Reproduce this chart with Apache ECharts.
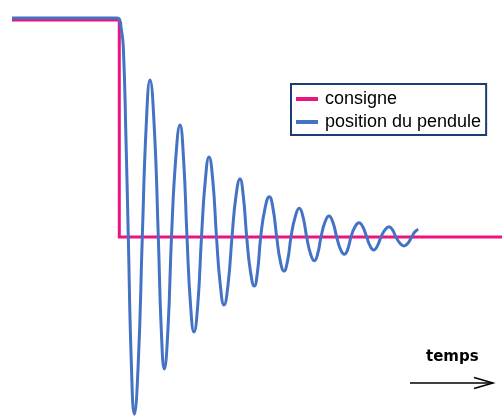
<!DOCTYPE html>
<html>
<head>
<meta charset="utf-8">
<script src="https://cdn.jsdelivr.net/npm/echarts@6/dist/echarts.min.js"></script>
<style>
  html, body { margin: 0; padding: 0; background: #ffffff; }
  #chart { width: 502px; height: 417px; }
</style>
</head>
<body>
<div id="chart"></div>
<script>
// Series names (legend)
const seriesNames = ['consigne', 'position du pendule'];

// Set point (consigne): time / value pairs
const consigneT = [0, 10.73, 10.73, 49];
const consigneV = [1, 1, 0, 0];

// Pendulum position: time / value pairs
const penduleT = [0, 10.5, 10.75, 10.9, 11.13, 11.4, 11.63, 11.93, 12.23, 12.63, 13.03,
  13.42, 13.8, 14.22, 14.63, 14.93, 15.23, 15.59, 15.95,
  16.38, 16.8, 17.15, 17.5, 17.85, 18.2, 18.58, 18.95,
  19.33, 19.7, 20.08, 20.45, 20.83, 21.2, 21.6, 22.0,
  22.4, 22.8, 23.13, 23.47, 23.85, 24.23, 24.55, 24.87,
  25.3, 25.73, 26.1, 26.47, 26.83, 27.2, 27.55, 27.9,
  28.32, 28.73, 29.1, 29.47, 29.85, 30.23, 30.57, 30.9,
  31.3, 31.7, 32.08, 32.47, 32.85, 33.23, 33.57, 33.9,
  34.3, 34.7, 35.08, 35.47, 35.82, 36.17, 36.53, 36.9,
  37.3, 37.7, 38.05, 38.4, 38.8, 39.2, 39.58, 39.97,
  40.3, 40.63];
const penduleV = [1.009, 1.009, 1.002, 0.968, 0.876, 0.447, 0, -0.577, -0.816, -0.577, 0,
  0.512, 0.724, 0.512, 0, -0.430, -0.608, -0.430, 0,
  0.365, 0.516, 0.365, 0, -0.310, -0.438, -0.310, 0,
  0.261, 0.369, 0.261, 0, -0.221, -0.313, -0.221, 0,
  0.189, 0.267, 0.189, 0, -0.160, -0.226, -0.160, 0,
  0.132, 0.186, 0.132, 0, -0.111, -0.157, -0.111, 0,
  0.093, 0.132, 0.093, 0, -0.077, -0.109, -0.077, 0,
  0.069, 0.097, 0.069, 0, -0.057, -0.080, -0.057, 0,
  0.047, 0.066, 0.047, 0, -0.042, -0.060, -0.042, 0,
  0.033, 0.047, 0.033, 0, -0.029, -0.041, -0.029, 0,
  0.024, 0.035];

const axisLabel = 'temps';

const pair = (ts, vs) => ts.map((t, i) => [t, vs[i]]);

const chart = echarts.init(document.getElementById('chart'), null, { renderer: 'canvas' });
chart.setOption({
  backgroundColor: '#ffffff',
  animation: false,
  grid: { left: 12, right: 0, top: 0, bottom: 0 },
  xAxis: {
    type: 'value', min: 0, max: 49,
    show: false, splitLine: { show: false }
  },
  yAxis: {
    type: 'value', min: -0.8295, max: 1.0922,
    show: false, splitLine: { show: false }
  },
  legend: {
    orient: 'vertical',
    left: 291,
    top: 84,
    padding: [6, 5, 4, 5],
    itemGap: 5,
    itemWidth: 22,
    itemHeight: 4,
    borderColor: '#1c3d73',
    borderWidth: 2,
    backgroundColor: '#ffffff',
    textStyle: { fontFamily: 'Liberation Sans, Arial, sans-serif', fontSize: 18, color: '#000000', lineHeight: 18, padding: [0, 0, 0, 2] },
    data: [
      { name: seriesNames[0], icon: 'rect' },
      { name: seriesNames[1], icon: 'rect' }
    ]
  },
  graphic: [
    {
      type: 'text', left: 426, top: 350,
      style: { text: axisLabel, font: 'bold 15px "DejaVu Sans"', fill: '#000000' }
    },
    {
      type: 'line',
      shape: { x1: 410, y1: 383, x2: 493, y2: 383 },
      style: { stroke: '#000000', lineWidth: 1.5 }
    },
    {
      type: 'polyline',
      shape: { points: [[474, 377.5], [493, 383], [474, 388.5]] },
      style: { stroke: '#000000', lineWidth: 1.5, fill: null }
    }
  ],
  series: [
    {
      name: seriesNames[0],
      type: 'line',
      data: pair(consigneT, consigneV),
      showSymbol: false,
      symbol: 'none',
      color: '#ec1380',
      lineStyle: { color: '#ec1380', width: 3, join: 'miter' },
      z: 2
    },
    {
      name: seriesNames[1],
      type: 'line',
      data: pair(penduleT, penduleV),
      showSymbol: false,
      symbol: 'none',
      smooth: 0.5,
      color: '#4472c4',
      lineStyle: { color: '#4472c4', width: 3 },
      z: 3
    }
  ]
});
</script>
</body>
</html>
